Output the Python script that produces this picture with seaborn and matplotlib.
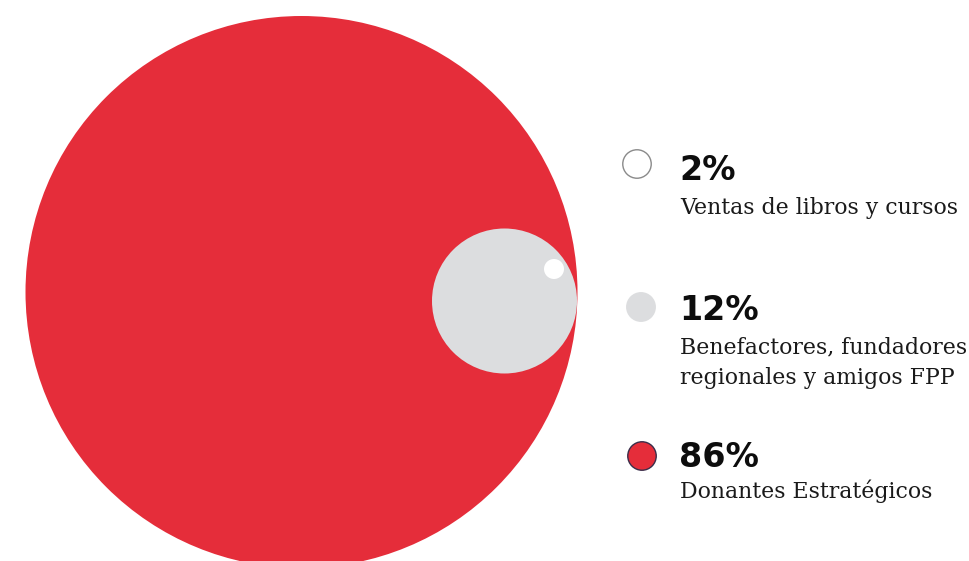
import matplotlib
matplotlib.use("Agg")
import matplotlib.pyplot as plt
from matplotlib.patches import Circle
import seaborn as sns
import pandas as pd

# ---- data ----
percentages = [2, 12, 86]
pct_labels = ["2%", "12%", "86%"]
categories = ["Ventas de libros y cursos",
              "Benefactores, fundadores\nregionales y amigos FPP",
              "Donantes Estratégicos"]
colors = ["#FFFFFF", "#DCDDDF", "#E52D3A"]
edge_colors = ["#8A8A8A", "#DCDDDF", "#3A2D4A"]

# ---- layout (pixel-like coordinates) ----
bubble_centers = [(554, 269), (504.5, 301), (301.5, 292)]
bubble_radii = [10, 72.5, 276]
marker_x = [637, 641, 642]
marker_y = [164, 307, 456]
pct_y = [170, 310, 457]
label_top = [197, 336, 479]
text_x = 680

sns.set_theme(style="white")
plt.rcParams['font.family'] = ['DejaVu Serif', 'DejaVu Sans']

fig = plt.figure(figsize=(9.69, 5.61), dpi=100)
ax = fig.add_axes([0, 0, 1, 1])

# bubbles: largest drawn first
for order, i in enumerate([2, 1, 0]):
    ax.add_patch(Circle(bubble_centers[i], bubble_radii[i], facecolor=colors[i],
                        edgecolor="none", zorder=1 + order))

# legend markers
df = pd.DataFrame({"x": marker_x, "y": marker_y, "cat": categories})
sns.scatterplot(data=df, x="x", y="y", hue="cat", palette=dict(zip(categories, colors)),
                s=420, edgecolor=edge_colors, linewidth=1.0, legend=False, ax=ax, zorder=5)

ax.set_xlim(0, 969)
ax.set_ylim(561, 0)
ax.set_aspect("equal")
ax.set_xlabel("")
ax.set_ylabel("")
ax.axis("off")

for i in range(3):
    ax.text(text_x - 1, pct_y[i], pct_labels[i], fontsize=24, fontweight="bold",
            family=["DejaVu Sans"], color="#0D0D0D", va="center", ha="left")
    ax.text(text_x, label_top[i], categories[i], fontsize=15.8,
            color="#1A1A1A", va="top", ha="left", linespacing=1.5)

fig.savefig("out.png", dpi=100)
